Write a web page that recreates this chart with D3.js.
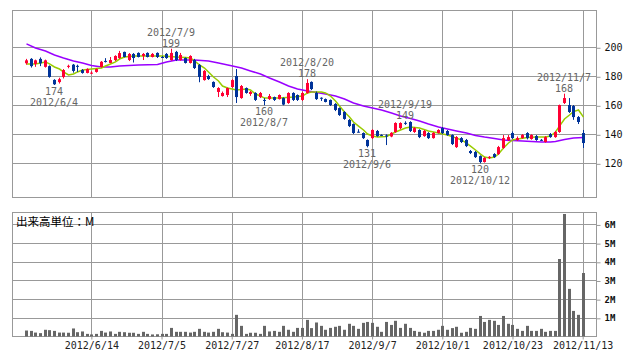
<!DOCTYPE html>
<html>
<head>
<meta charset="utf-8">
<script src="https://cdn.jsdelivr.net/npm/d3@7"></script>
<style>
  body { margin: 0; background: #fff; }
  svg { display: block; }
</style>
</head>
<body>
<div id="chart"></div>
<script>
var svg_width = 638;
var svg_height = 362;

// trading days (Tokyo) 2012/5/25 - 2012/11/13
var dates = ["2012/5/25","2012/5/28","2012/5/29","2012/5/30","2012/5/31","2012/6/1","2012/6/4","2012/6/5","2012/6/6","2012/6/7",
  "2012/6/8","2012/6/11","2012/6/12","2012/6/13","2012/6/14","2012/6/15","2012/6/18","2012/6/19","2012/6/20","2012/6/21",
  "2012/6/22","2012/6/25","2012/6/26","2012/6/27","2012/6/28","2012/6/29","2012/7/2","2012/7/3","2012/7/4","2012/7/5",
  "2012/7/6","2012/7/9","2012/7/10","2012/7/11","2012/7/12","2012/7/13","2012/7/17","2012/7/18","2012/7/19","2012/7/20",
  "2012/7/23","2012/7/24","2012/7/25","2012/7/26","2012/7/27","2012/7/30","2012/7/31","2012/8/1","2012/8/2","2012/8/3",
  "2012/8/6","2012/8/7","2012/8/8","2012/8/9","2012/8/10","2012/8/13","2012/8/14","2012/8/15","2012/8/16","2012/8/17",
  "2012/8/20","2012/8/21","2012/8/22","2012/8/23","2012/8/24","2012/8/27","2012/8/28","2012/8/29","2012/8/30","2012/8/31",
  "2012/9/3","2012/9/4","2012/9/5","2012/9/6","2012/9/7","2012/9/10","2012/9/11","2012/9/12","2012/9/13","2012/9/14",
  "2012/9/18","2012/9/19","2012/9/20","2012/9/21","2012/9/24","2012/9/25","2012/9/26","2012/9/27","2012/9/28","2012/10/1",
  "2012/10/2","2012/10/3","2012/10/4","2012/10/5","2012/10/9","2012/10/10","2012/10/11","2012/10/12","2012/10/15","2012/10/16",
  "2012/10/17","2012/10/18","2012/10/19","2012/10/22","2012/10/23","2012/10/24","2012/10/25","2012/10/26","2012/10/29","2012/10/30",
  "2012/10/31","2012/11/1","2012/11/2","2012/11/5","2012/11/6","2012/11/7","2012/11/8","2012/11/9","2012/11/12","2012/11/13"];

var open = [189,192,188.5,192,186.5,187,177.5,176,179.5,187, 188,187.2,184.3,182.3,182.5,183,186.4,190.6,189.2,191.2,
  192.6,196.8,191.2,195.4,196.1,194,196.1,193.3,196.1,193.3, 195.4,191.2,196.8,191.2,192.6,189.2,191.2,187.8,177.4,180.2,
  176.1,169.2,166.4,167.1,172.6,180.2,165,171.9,167.8,168.5, 165.7,163.7,164.3,165.7,164.3,165,161.6,168.5,167.1,163.7,
  168.5,176.1,168.5,165.2,164.3,163.7,160.9,158.1,155.4,149.9, 147.1,141.8,140.9,136.1,137.4,142.3,139.6,139.2,138.5,141.6,
  144.3,147.9,148.5,141.6,143,138.8,140.9,137.4,140.9,144.3, 142.3,139.5,131.2,137.4,136.1,128.5,127.8,125,120.9,123.7,
  126.4,126.4,130.6,136.1,140.9,136.1,137.4,140.9,136.8,138.8, 136.2,134.7,140.2,138.1,141.6,161.6,160.2,159.5,151.9,140.9];
var high = [192,192.5,191.5,193,191.5,187.5,178,179,185,188, 188.5,188,185,185.5,183.5,185.5,190.5,192.5,193.3,194.5,
  197.5,197,196,196,196.5,196,196.5,196,196.5,194, 196,199,197.5,196.1,193,194.5,192,188.5,184.3,181,
  176.5,172.5,169.5,172.3,178,185,174,172.3,169.9,169, 169.2,165,167.8,166,167.5,165.5,169,169,167.5,169.5,
  178,176.5,169.5,165.5,164.7,164,161.5,158.5,156,150.5, 147.5,143.5,141.3,136.5,143.5,143,140,140,141.5,148.3,
  148.3,149,149,145,143.5,143,141.5,141.5,143.5,145, 143,140,138.8,138.1,136.8,129.2,128.5,125.5,124.3,125,
  127,132,139.5,139.5,142,138.5,140.2,141.5,140,139.5, 136.8,138.8,140.9,142.3,160.5,168,165,160.2,152.6,143];
var low = [188,186,186.5,187,186,179,174,175,178.5,185.5, 182.5,183,181.8,182,181.5,182.5,186,189.5,189,190.5,
  192,193,190.5,189.5,193,191.2,193,193,192.6,192.6, 192,190.8,190.5,190.8,188.8,188.8,185,175.9,177,177.5,
  172,165.7,166,165.7,172,161.6,164.5,168,166.5,163, 165,160,163.7,163,164,160,161,163,163,163,
  168,170.5,163.7,163,162,159.5,156,152.7,150,145, 140.2,141.3,136.8,131,136.8,138.3,138.8,132.6,138,141,
  143.5,146.5,141.6,141,137.4,138.3,136.8,137,140.5,140.2, 139,132.6,130.6,134,131.2,126.4,123.7,120,120.5,123,
  123.7,125.8,130,135.5,136.8,135.5,137,136.5,136.3,135.5, 135.4,134.3,137.6,137.6,141,160.9,154.7,150,147.1,130.6];
var close = [191,187,191,189,191,179.5,174.5,178,184.3,187.2, 183.7,187,182.3,185,182.5,185,190,190.4,191.2,194,
  196,193.3,195.4,192.6,193.3,195.4,193.3,195.4,193.3,193.1, 192.6,196.1,191.2,194.7,189.2,194,185.7,179.5,183.7,178.1,
  172.6,171.9,168.5,171.9,177.4,165.7,173.3,168.5,169.2,163.7, 168.5,163.6,166.4,163.7,167.1,160.5,168.5,163.7,163.7,168.5,
  175.4,171.2,164.3,165,162.3,160.2,156.8,153.3,150.6,145.7, 140.9,141.6,137.4,131.9,143,138.8,139.4,139,141,147.8,
  147.8,147.7,142.3,144.3,138.1,142.3,137.4,140.9,143,140.9, 139.5,133.3,138.1,134.7,131.9,127.1,124.3,120.9,123.7,124.5,
  124.3,131.2,137.4,138.1,137.4,137.4,139.5,137.4,139.5,136.1, 136,138.1,138.1,141.6,160.2,165,155.4,151.9,148.5,134];
// volume, millions
var volume = [0.32,0.30,0.21,0.18,0.36,0.34,0.30,0.21,0.21,0.20, 0.43,0.23,0.27,0.14,0.11,0.14,0.30,0.21,0.27,0.14,
  0.25,0.23,0.20,0.20,0.14,0.25,0.14,0.11,0.12,0.14, 0.14,0.46,0.25,0.25,0.25,0.21,0.25,0.41,0.25,0.21,
  0.25,0.41,0.23,0.21,0.14,1.16,0.57,0.14,0.20,0.20, 0.14,0.57,0.27,0.30,0.25,0.57,0.36,0.25,0.46,0.46,
  0.89,0.45,0.75,0.57,0.36,0.46,0.52,0.57,0.36,0.68, 0.57,0.41,0.73,0.78,0.73,0.52,0.25,0.78,0.62,0.84,
  0.46,0.68,0.46,0.30,0.25,0.20,0.30,0.30,0.36,0.57, 0.36,0.45,0.52,0.20,0.25,0.46,0.41,1.10,0.78,0.89,
  0.84,0.62,1.10,0.68,0.62,0.41,0.30,0.57,0.30,0.30, 0.41,0.25,0.30,0.30,4.15,6.56,2.55,1.37,1.16,3.40];

// moving averages (day index, value)
var maShortDay = [0,2,4,5,6,7,8,9,10,11,12,14,16,17,18,19,20,21,23,26,29,32,34,35,36,37,38,39,40,41,42,43,45,47,48,49,50,51,54,57,
  59,60,61,63,64,65,66,67,68,69,70,71,72,73,74,75,77,78,79,80,81,82,84,86,88,90,92,93,94,95,96,97,98,99,100,101,102,103,104,105,
  107,109,111,112,113,114,115,116,117,118,119];
var maShort = [188.5,188.5,189.9,188.5,186.4,185,183,180.9,181.6,183,184.3,185,185.7,187.1,188.5,189.9,191.9,193.3,194,194,194,193.3,193,192.6,190.6,187.8,185.7,183,179.5,176.8,173.3,171.9,170.6,171.2,170.6,167.8,166.4,165,165,165.7,
  166.4,168.5,169.2,169.2,168.5,166.4,163,159.5,155.4,151.9,148.5,145.7,143,140.2,138.8,138.1,138.5,140.2,141.6,143,144.3,145,144.3,142.3,140.9,139.5,137.4,136.1,134,131.9,129.2,126.4,124.3,123.7,124.3,126.4,130.6,134,136.1,136.8,
  137.8,138.1,138.1,138.8,141.6,145.7,150.6,153.3,155.7,156.8,151.9];
var maLongDay = [0,2,4,6,8,10,12,14,16,18,20,24,28,30,32,36,39,41,44,46,48,50,52,54,56,58,60,62,64,66,68,70,72,74,76,78,80,82,84,86,
  88,90,92,94,96,98,100,102,104,106,108,110,112,113,115,117,119];
var maLong = [202.3,199.5,197.4,194.7,192.6,190.6,189.2,187.4,186.4,186.4,187.1,187.8,188.1,189.9,191.2,191.2,190.6,189.2,187.1,185.7,183.7,181.6,178.8,176.1,173.3,171.2,169.9,168.8,167.8,166.4,164.3,161.6,159.5,158.1,156.8,154.7,152.6,150.9,149.2,147.1,
  145,143.7,142.3,140.9,139.2,138.1,137.1,136.1,135.7,135.4,135,134.7,134.7,135,136.4,137.4,137.8];

var priceTicks = [120, 140, 160, 180, 200];
var volumeTicks = [1, 2, 3, 4, 5, 6];
var tickDates = ["2012/6/14","2012/7/5","2012/7/27","2012/8/17","2012/9/7","2012/10/1","2012/10/23","2012/11/13"];

var markDates = ["2012/6/4","2012/7/9","2012/8/7","2012/8/20","2012/9/6","2012/9/19","2012/10/12","2012/11/7"];
var markValues = [174, 199, 160, 178, 131, 149, 120, 168];
var markTypes = ["low","high","low","high","low","high","low","high"];

var plot = ({left: 12.5, right: 596.5});
var top_panel = ({top: 10.5, bottom: 197.5});
var vol_panel = ({top: 212.5, bottom: 336.5});

var GRID = "#999";
var UP = "#ff0033";
var DOWN = "#003399";
var mono = "'DejaVu Sans Mono', monospace";

var x = d3.scaleBand()
    .domain(dates)
    .range([23.5, 585])
    .padding(0);
var cx = d => Math.round(x(d) + x.bandwidth() / 2);

var y = d3.scaleLinear()
    .domain([96.8, 225])
    .range([197, 11]);

var yv = d3.scaleLinear()
    .domain([0, 6.64])
    .range([336.5, 212.5]);

const svg = d3.select("#chart")
    .append("svg")
    .attr("width", svg_width)
    .attr("height", svg_height)
    .attr("viewBox", [0, 0, svg_width, svg_height]);

// grid for both panels
function grid(panel, yscale, ticks) {
    var g = svg.append("g").attr("stroke", GRID).attr("stroke-width", 1).attr("fill", "none");
    g.selectAll(".h").data(ticks).join("line")
        .attr("x1", plot.left).attr("x2", plot.right)
        .attr("y1", d => Math.round(yscale(d)) + 0.5)
        .attr("y2", d => Math.round(yscale(d)) + 0.5);
    g.selectAll(".v").data(tickDates).join("line")
        .attr("x1", d => cx(d) + 0.5).attr("x2", d => cx(d) + 0.5)
        .attr("y1", panel.top).attr("y2", panel.bottom);
    g.append("rect")
        .attr("x", plot.left).attr("y", panel.top)
        .attr("width", plot.right - plot.left)
        .attr("height", panel.bottom - panel.top);
}
grid(top_panel, y, priceTicks);
grid(vol_panel, yv, volumeTicks);

// long and short moving averages
var line = d3.line()
    .x(d => cx(dates[d[0]]) + 0.5)
    .y(d => y(d[1]));

svg.append("path")
    .datum(maLongDay.map((d, i) => [d, maLong[i]]))
    .attr("fill", "none")
    .attr("stroke", "#9900ff")
    .attr("stroke-width", 1.5)
    .attr("d", line);

svg.append("path")
    .datum(maShortDay.map((d, i) => [d, maShort[i]]))
    .attr("fill", "none")
    .attr("stroke", "#99cc00")
    .attr("stroke-width", 1.5)
    .attr("d", line);

// candles
var candles = svg.append("g")
    .selectAll("g")
    .data(dates)
    .join("g")
      .attr("fill", (d, i) => close[i] >= open[i] ? UP : DOWN)
      .attr("stroke", (d, i) => close[i] >= open[i] ? UP : DOWN);

candles.append("line")
    .attr("x1", d => cx(d) + 0.5).attr("x2", d => cx(d) + 0.5)
    .attr("y1", (d, i) => y(high[i]))
    .attr("y2", (d, i) => y(low[i]))
    .attr("stroke-width", 1);

candles.append("rect")
    .attr("stroke", "none")
    .attr("x", d => cx(d) - 1)
    .attr("width", 3)
    .attr("y", (d, i) => y(Math.max(open[i], close[i])))
    .attr("height", (d, i) => Math.max(1, y(Math.min(open[i], close[i])) - y(Math.max(open[i], close[i]))));

// high / low marks
var marks = svg.append("g")
    .attr("fill", "#666")
    .attr("font-family", mono)
    .attr("font-size", "10px")
    .attr("text-anchor", "middle")
    .selectAll("g")
    .data(markDates)
    .join("g");

marks.append("text")
    .attr("x", d => cx(d))
    .attr("y", (d, i) => markTypes[i] == "high" ? y(markValues[i]) - 2 : y(markValues[i]) + 10)
    .text((d, i) => markValues[i]);
marks.append("text")
    .attr("x", d => cx(d))
    .attr("y", (d, i) => markTypes[i] == "high" ? y(markValues[i]) - 13 : y(markValues[i]) + 21)
    .text(d => d);

// volume bars
svg.append("g")
    .attr("fill", "#666")
    .selectAll("rect")
    .data(dates)
    .join("rect")
      .attr("x", d => cx(d) - 1)
      .attr("width", 3)
      .attr("y", (d, i) => yv(volume[i]))
      .attr("height", (d, i) => yv(0) - yv(volume[i]));

svg.append("text")
    .attr("x", 16)
    .attr("y", 226)
    .attr("font-family", "'Noto Sans CJK JP', sans-serif")
    .attr("font-size", "11.5px")
    .attr("fill", "#000")
    .text("出来高単位：M");

// axes
var priceAxis = g => g
    .attr("transform", `translate(${plot.right},0)`)
    .call(d3.axisRight(y).tickValues(priceTicks).tickSize(4).tickPadding(4))
    .call(g => g.select(".domain").remove())
    .call(g => g.selectAll("line").attr("stroke", GRID).attr("transform", "translate(0,0.5)"))
    .call(g => g.selectAll("text").attr("font-family", mono).attr("font-size", "10px").attr("fill", "#111"));

var volumeAxis = g => g
    .attr("transform", `translate(${plot.right},0)`)
    .call(d3.axisRight(yv).tickValues(volumeTicks).tickSize(4).tickPadding(4).tickFormat(d => d + "M"))
    .call(g => g.select(".domain").remove())
    .call(g => g.selectAll("line").attr("stroke", GRID).attr("transform", "translate(0,0.5)"))
    .call(g => g.selectAll("text").attr("font-family", mono).attr("font-size", "9px").attr("font-weight", "bold").attr("fill", "#111"));

var dateAxis = g => g
    .attr("transform", `translate(0.5,${vol_panel.bottom})`)
    .call(d3.axisBottom(x).tickValues(tickDates).tickSize(3).tickPadding(2).tickSizeOuter(0))
    .call(g => g.select(".domain").remove())
    .call(g => g.selectAll("line").attr("stroke", GRID))
    .call(g => g.selectAll("text").attr("font-family", mono).attr("font-size", "10px").attr("fill", "#222"));

svg.append("g").call(priceAxis);
svg.append("g").call(volumeAxis);
svg.append("g").call(dateAxis);
</script>
</body>
</html>
